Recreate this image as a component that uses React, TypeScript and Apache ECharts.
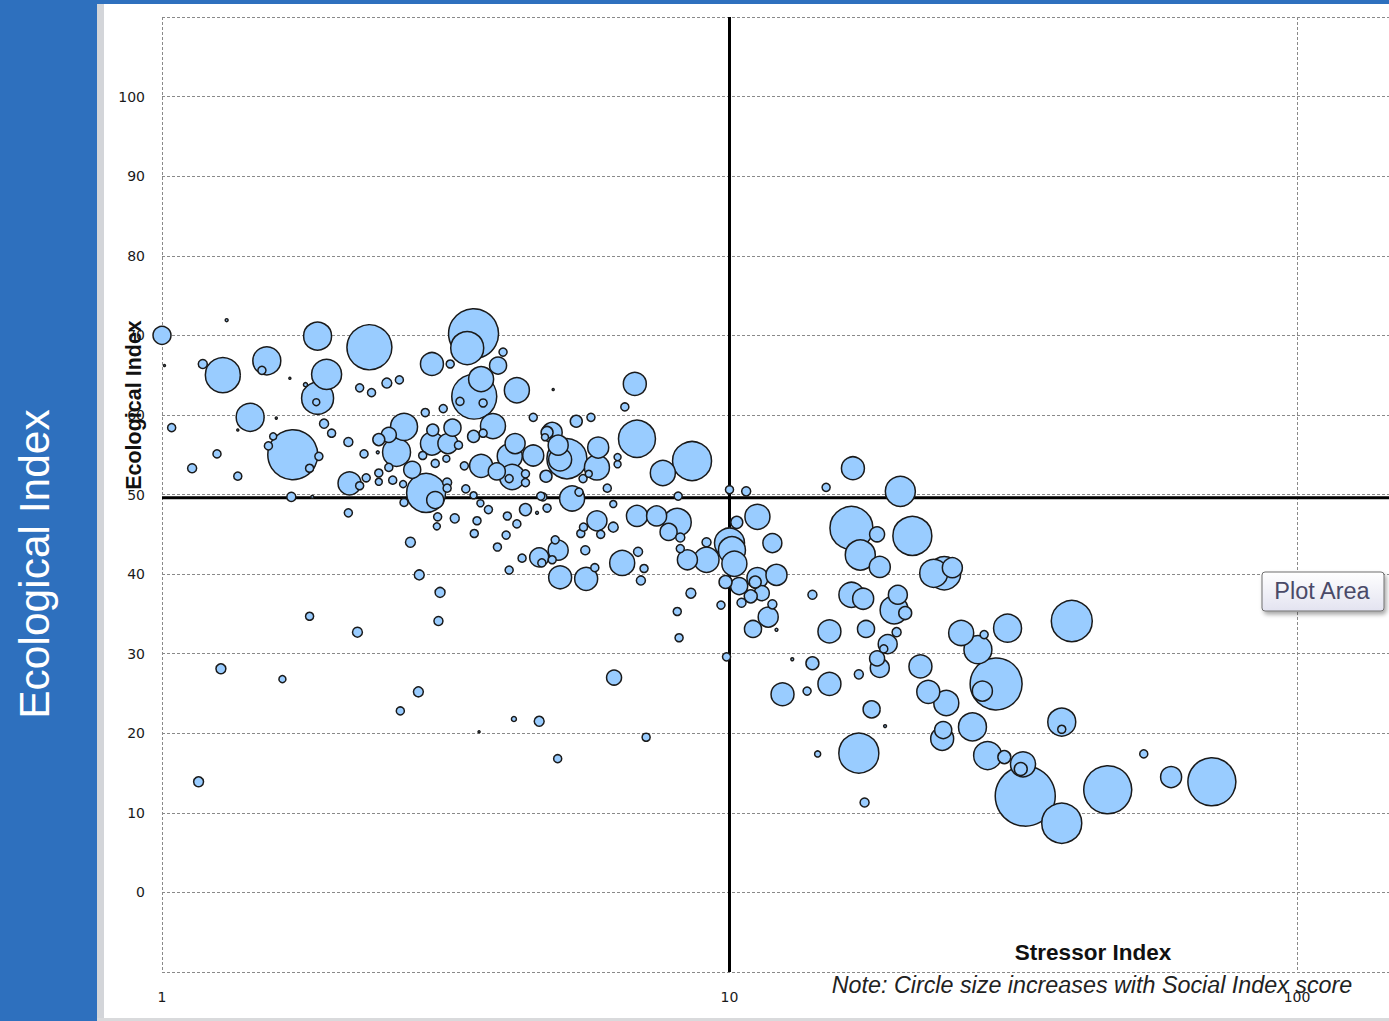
import React, { useEffect, useRef } from "react";
import * as echarts from "echarts";

// Stressor Index (x, log scale)
const stressorIndex = [
  1.00, 1.30, 1.88, 2.32, 1.18, 1.28, 1.53, 1.50, 1.95, 1.88,
  1.87, 1.79, 1.68, 1.01, 2.23, 2.34, 2.49, 2.62, 1.43, 1.04,
  1.59, 1.36, 1.70, 1.57, 1.54, 1.89, 1.82, 1.25, 1.13, 1.36,
  2.14, 2.23, 2.29, 1.69, 1.84, 2.13, 1.93, 1.99, 2.13, 2.27,
  2.40, 2.41, 2.51, 2.67, 2.59, 2.76, 2.51, 2.41, 2.41, 2.55,
  2.66, 2.67, 1.27, 1.63, 1.82, 2.21, 1.16, 2.63,
  2.92, 3.03, 3.18, 3.18, 2.91, 3.13, 3.00, 3.25, 2.99, 3.19,
  3.33, 2.88, 3.03, 3.17, 3.54, 3.68, 3.83, 4.19, 4.10, 4.51,
  4.77, 4.73, 4.51, 3.65, 3.89, 3.41, 4.14, 4.09, 4.37, 4.37,
  4.37, 3.43, 3.54, 3.64, 3.76, 4.06, 4.22, 4.04, 3.90, 3.06,
  3.28, 3.59, 3.05, 3.55, 2.74, 4.58, 4.77, 4.69, 3.99, 3.91,
  3.65, 3.55, 3.35, 3.68, 4.22, 3.54, 3.45, 2.99, 3.22, 4.89,
  5.37, 5.70, 4.87, 4.75, 2.84, 3.09, 3.07, 2.83,
  5.28, 5.43, 6.09, 4.65, 6.24, 6.35, 6.35, 5.17, 5.03, 4.99,
  5.87, 5.84, 5.52, 5.65, 6.81, 6.54, 6.87, 8.59, 7.63, 8.12,
  10.0, 10.7, 11.2, 10.3, 6.87, 7.44, 8.09, 7.81, 8.19, 8.19,
  5.84, 5.93, 6.24, 5.47, 5.53, 6.47, 6.90, 7.07, 6.98, 8.43,
  9.11, 9.11, 10.0, 10.1, 10.2,
  11.9, 9.84, 10.4, 11.2, 11.1, 12.1, 10.9, 11.4, 10.5, 11.9,
  11.7, 11.0, 12.1, 8.55, 9.66, 8.09, 8.15, 9.88, 6.26, 4.17,
  4.62, 7.13, 4.98, 3.62, 4.31, 4.62, 4.99, 4.93, 4.87, 4.67,
  4.09, 5.03, 5.59, 5.79, 5.57,
  14.0, 15.0, 17.4, 14.0, 12.9, 16.9, 15.0, 13.7, 12.4, 17.8,
  18.8, 16.9, 14.3, 17.3, 16.5, 14.8, 20.0, 16.4, 18.2, 17.0,
  18.4, 21.0, 22.9, 23.9, 24.7, 16.4, 17.2, 19.8, 19.5, 20.4,
  19.7, 19.0, 18.7, 18.2, 18.4, 21.7, 25.6, 27.4, 28.1, 30.9,
  40.1, 29.5, 27.9, 22.4, 24.1, 26.8, 23.7, 23.8, 28.5, 30.5,
  32.9, 32.6, 33.2, 38.5, 46.4, 38.5, 38.5, 53.7, 60.0, 70.8,
];

// Ecological Index (y)
const ecologicalIndex = [
  70.0, 71.9, 69.9, 68.5, 66.4, 65.0, 66.8, 65.6, 65.1, 62.1,
  61.6, 63.8, 64.6, 66.2, 63.4, 62.8, 64.0, 64.4, 59.7, 58.4,
  59.6, 58.1, 55.0, 57.3, 56.1, 54.8, 53.3, 55.1, 53.3, 52.3,
  51.4, 51.1, 52.1, 49.7, 49.7, 47.7, 58.9, 57.7, 56.6, 55.1,
  55.3, 56.9, 57.5, 58.5, 55.3, 53.1, 53.4, 52.7, 51.6, 51.8,
  51.3, 49.0, 28.1, 26.8, 34.7, 32.7, 13.9, 22.8,
  50.2, 49.3, 51.5, 50.8, 60.3, 60.8, 58.1, 58.4, 56.4, 56.4,
  56.2, 54.9, 53.9, 54.5, 57.3, 57.7, 58.6, 56.4, 54.8, 59.7,
  57.8, 57.2, 54.9, 53.6, 52.9, 53.6, 52.2, 52.0, 52.6, 51.5,
  48.1, 50.7, 49.9, 48.9, 48.1, 47.3, 46.3, 44.9, 43.4, 47.2,
  47.0, 46.7, 46.0, 45.1, 44.0, 47.7, 48.3, 49.7, 67.9, 66.2,
  64.5, 62.3, 61.7, 61.5, 63.1, 70.2, 68.4, 66.4, 66.4, 63.2,
  59.2, 59.7, 57.8, 52.3, 39.9, 37.7, 34.1, 25.2,
  49.5, 50.3, 50.8, 49.8, 48.8, 54.7, 53.8, 54.5, 54.4, 56.2,
  55.9, 53.4, 52.0, 52.6, 63.9, 61.0, 57.0, 54.2, 52.7, 49.8,
  50.6, 50.4, 47.2, 46.5, 47.3, 47.3, 46.5, 45.3, 44.6, 43.2,
  46.7, 45.0, 45.9, 45.1, 45.9, 41.4, 42.8, 40.7, 39.2, 41.8,
  41.8, 44.0, 43.9, 43.0, 41.3,
  43.9, 39.0, 38.5, 39.5, 39.0, 39.9, 37.2, 37.6, 36.4, 36.2,
  34.6, 33.1, 33.0, 37.6, 36.1, 35.3, 32.0, 29.6, 27.0, 21.8,
  21.5, 19.5, 16.8, 20.2, 42.0, 42.1, 43.0, 44.3, 41.8, 41.4,
  40.5, 39.6, 39.4, 40.8, 43.0,
  37.4, 32.8, 33.1, 28.8, 29.3, 27.4, 26.2, 25.3, 24.9, 23.0,
  20.9, 17.5, 17.4, 11.3, 53.3, 50.9, 50.4, 45.8, 45.0, 42.4,
  40.9, 44.8, 40.1, 40.1, 40.8, 37.4, 36.9, 37.4, 35.5, 35.1,
  32.7, 31.2, 30.6, 29.4, 28.2, 28.4, 32.6, 30.5, 32.4, 33.2,
  34.1, 26.2, 25.3, 25.2, 23.8, 20.8, 19.3, 20.4, 17.2, 17.0,
  16.1, 15.5, 12.1, 8.7, 12.9, 21.4, 20.5, 17.4, 14.5, 13.9,
];

// Social Index score (bubble size)
const socialIndex = [
  7.9, 0.2, 19.1, 49.4, 2.0, 29.9, 19.1, 1.6, 22, 25,
  1.2, 0.4, 0.1, 0.1, 1.6, 1.6, 2.4, 1.6, 19.1, 1.6,
  0.1, 0.1, 61, 1.2, 1.6, 1.6, 1.6, 1.6, 2.0, 1.6,
  12.9, 1.6, 1.6, 2.0, 0.2, 1.6, 2.0, 1.6, 2.0, 1.6,
  0.2, 3.5, 5.5, 17.8, 19.1, 7.1, 1.6, 1.6, 1.2, 1.6,
  1.2, 1.6, 2.4, 1.2, 1.6, 2.4, 2.4, 1.6,
  37.1, 7.1, 2.0, 1.6, 1.6, 1.6, 3.5, 7.1, 12.9, 9.8,
  1.6, 1.6, 1.6, 1.2, 3.5, 1.6, 15.3, 9.8, 15.3, 1.6,
  3.5, 1.2, 10.8, 12.9, 7.1, 1.6, 15.3, 1.6, 1.6, 1.6,
  3.5, 1.6, 1.2, 1.2, 1.6, 1.6, 1.6, 1.6, 1.6, 1.6,
  2.0, 1.6, 1.2, 1.6, 2.4, 0.2, 1.6, 1.6, 1.6, 7.1,
  15.3, 49.4, 1.6, 1.6, 15.3, 61, 26.6, 12.9, 1.6, 0.1,
  3.5, 1.6, 9.8, 3.5, 2.4, 2.4, 2.0, 2.4,
  15.3, 1.6, 1.6, 1.6, 1.2, 1.2, 1.2, 39.1, 12.9, 9.8,
  10.8, 15.3, 1.6, 1.2, 12.9, 1.6, 33.4, 37.1, 15.3, 1.6,
  1.6, 2.0, 15.3, 3.5, 10.8, 9.8, 19.1, 7.1, 2.0, 1.6,
  9.8, 1.6, 2.4, 1.6, 1.6, 15.3, 2.0, 1.6, 2.0, 9.8,
  15.3, 2.0, 22, 17.8, 15.3,
  8.8, 4.1, 7.1, 10.8, 3.5, 10.8, 4.1, 5.5, 2.0, 2.0,
  9.8, 7.1, 0.2, 2.4, 1.6, 1.6, 1.6, 1.6, 5.5, 0.6,
  2.4, 1.6, 1.6, 0.1, 1.6, 8.8, 9.8, 1.6, 1.6, 1.6,
  1.6, 12.9, 12.9, 1.6, 2.0,
  2.0, 12.9, 7.1, 4.1, 0.2, 2.0, 12.9, 1.6, 12.9, 7.1,
  0.2, 39.1, 0.9, 2.0, 12.9, 1.6, 22, 45.1, 5.5, 22,
  10.8, 37.1, 19.1, 26.6, 9.8, 15.3, 10.8, 8.8, 19.1, 4.1,
  2.0, 8.8, 1.6, 5.5, 8.8, 12.9, 15.3, 19.1, 1.6, 19.1,
  41, 66, 9.8, 12.9, 15.3, 19.1, 12.9, 7.1, 19.1, 4.1,
  15.3, 4.1, 88, 39.1, 56.3, 19.1, 1.6, 1.6, 10.8, 56.3,
];

const xTickLabels = [1, 10, 100];
const yTickLabels = [0, 10, 20, 30, 40, 50, 60, 70, 80, 90, 100];
const stressorThreshold = 10;
const ecologicalThreshold = 49.6;
const xRange = [1, 1000];
const yRange = [-10, 110];

export default function App() {
  const ref = useRef<HTMLDivElement>(null);

  useEffect(() => {
    if (!ref.current) return;
    const chart = echarts.init(ref.current, null, { renderer: "svg" });

    const points = stressorIndex
      .map((x, i) => [x, ecologicalIndex[i], socialIndex[i]])
      .sort((a, b) => b[2] - a[2]);

    const blue = "#2E70BE";
    const gridLine = { show: true, lineStyle: { color: "#8A8A8A", width: 1, type: [3, 2] } };
    const tickFont = { color: "#1A1A1A", fontFamily: "DejaVu Sans", fontSize: 14 };

    chart.setOption({
      animation: false,
      backgroundColor: "#ffffff",
      grid: { left: 162, top: 17, width: 1702.5, height: 955, containLabel: false },
      xAxis: {
        type: "log",
        logBase: 10,
        min: xRange[0],
        max: xRange[1],
        axisLine: { show: false },
        axisTick: { show: false },
        splitLine: gridLine,
        axisLabel: {
          ...tickFont,
          margin: 18,
          formatter: (v: number) => {
            const r = Math.round(v);
            return xTickLabels.includes(r) ? String(r) : "";
          },
        },
      },
      yAxis: {
        type: "value",
        min: yRange[0],
        max: yRange[1],
        interval: 10,
        axisLine: { show: false },
        axisTick: { show: false },
        splitLine: gridLine,
        axisLabel: {
          ...tickFont,
          margin: 17,
          formatter: (v: number) => (yTickLabels.includes(v) ? String(v) : ""),
        },
      },
      series: [
        {
          type: "line",
          silent: true,
          z: 1,
          symbol: "none",
          data: [
            [stressorThreshold, yRange[0]],
            [stressorThreshold, yRange[1]],
          ],
          lineStyle: { color: "#000", width: 3 },
        },
        {
          type: "line",
          silent: true,
          z: 1,
          symbol: "none",
          data: [
            [xRange[0], ecologicalThreshold],
            [xRange[1], ecologicalThreshold],
          ],
          lineStyle: { color: "#000", width: 3 },
        },
        {
          type: "scatter",
          z: 2,
          data: points,
          symbolSize: (v: number[]) => 6.4 * Math.sqrt(v[2]),
          itemStyle: { color: "#99CCFF", borderColor: "#1A1A1A", borderWidth: 1.5, opacity: 1 },
        },
      ],
      graphic: [
        { type: "rect", z: 50, shape: { x: 0, y: 0, width: 97, height: 1021 }, style: { fill: blue } },
        { type: "rect", z: 50, shape: { x: 97, y: 0, width: 7, height: 1021 }, style: { fill: "#D3D5D9" } },
        { type: "rect", z: 50, shape: { x: 97, y: 1018, width: 1900, height: 3 }, style: { fill: "#D9DADC" } },
        { type: "rect", z: 51, shape: { x: 95, y: 0, width: 1900, height: 4 }, style: { fill: blue } },
        {
          type: "text",
          z: 52,
          x: 34,
          y: 564,
          rotation: Math.PI / 2,
          style: {
            text: "Ecological Index",
            fill: "#ffffff",
            fontFamily: "Liberation Sans",
            fontSize: 42.5,
            align: "center",
            verticalAlign: "middle",
          },
        },
        {
          type: "text",
          z: 52,
          x: 134,
          y: 405,
          rotation: Math.PI / 2,
          style: {
            text: "Ecological Index",
            fill: "#111",
            fontFamily: "Liberation Sans",
            fontWeight: "bold",
            fontSize: 21.5,
            align: "center",
            verticalAlign: "middle",
          },
        },
        {
          type: "text",
          z: 52,
          x: 1093,
          y: 952,
          style: {
            text: "Stressor Index",
            fill: "#111",
            fontFamily: "Liberation Sans",
            fontWeight: "bold",
            fontSize: 22.5,
            align: "center",
            verticalAlign: "middle",
          },
        },
        {
          type: "text",
          z: 52,
          x: 1092,
          y: 985,
          style: {
            text: "Note: Circle size increases with Social Index score",
            fill: "#222",
            fontFamily: "Liberation Sans",
            fontStyle: "italic",
            fontSize: 23.3,
            align: "center",
            verticalAlign: "middle",
          },
        },
        {
          type: "rect",
          z: 60,
          shape: { x: 1262, y: 572, width: 122, height: 39, r: 3 },
          style: {
            fill: {
              type: "linear",
              x: 0,
              y: 0,
              x2: 0,
              y2: 1,
              colorStops: [
                { offset: 0, color: "#FFFFFF" },
                { offset: 1, color: "#E3E3F0" },
              ],
            },
            stroke: "#6E6E6E",
            lineWidth: 1,
            shadowBlur: 4,
            shadowOffsetX: 2,
            shadowOffsetY: 3,
            shadowColor: "rgba(0,0,0,0.35)",
          },
        },
        {
          type: "text",
          z: 61,
          x: 1322,
          y: 591,
          style: {
            text: "Plot Area",
            fill: "#4A4A68",
            fontFamily: "Liberation Sans",
            fontSize: 23.5,
            align: "center",
            verticalAlign: "middle",
          },
        },
      ],
    });

    return () => chart.dispose();
  }, []);

  return (
    <div
      style={{
        position: "fixed",
        left: 0,
        top: 0,
        width: 1389,
        height: 1021,
        overflow: "hidden",
        background: "#ffffff",
      }}
    >
      <div ref={ref} style={{ width: 1900, height: 1021 }} />
    </div>
  );
}
